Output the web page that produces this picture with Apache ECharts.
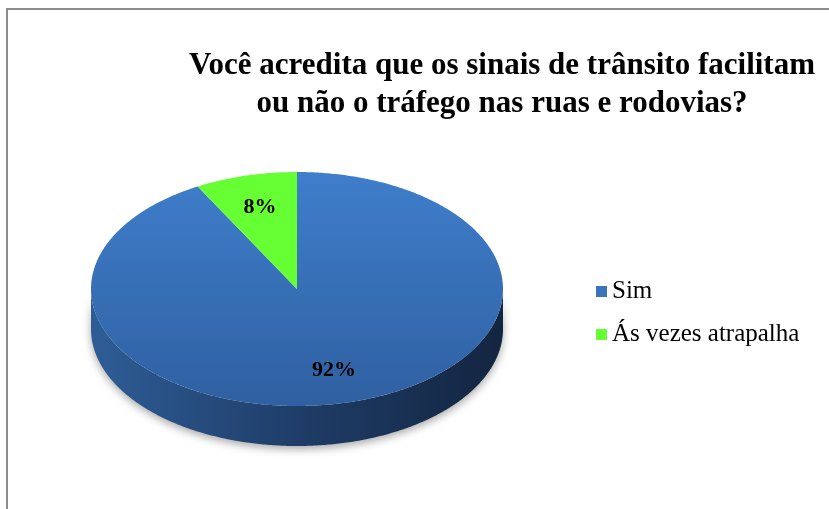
<!DOCTYPE html>
<html lang="pt">
<head>
    <meta charset="UTF-8">
    <title>Sinais de trânsito</title>
    <script src="https://cdn.jsdelivr.net/npm/echarts@6/dist/echarts.min.js"></script>
    <style>
        html, body { margin: 0; padding: 0; background: #fff; }
        #main { width: 829px; height: 509px; }
    </style>
</head>
<body>
    <div id="main"></div>
    <script>
        // dados do gráfico
        var categories = ['Sim', 'Ás vezes atrapalha'];
        var values = [92, 8];
        var labels = ['92%', '8%'];

        // cores: topo (gradiente) e legenda
        var topColors = [['#3f7ecb', '#2f60a1'], ['#66ff33', '#66ff33']];
        var legendColors = ['#3a74bd', '#66ff33'];

        // geometria da "pizza 3D"
        var pie = { cx: 297, cy: 289, rx: 206, ry: 117, depth: 40, labelR: 0.72 };

        var total = values.reduce(function (a, b) { return a + b; }, 0);

        function sliceAngles(idx) {
            var start = -Math.PI / 2;
            for (var i = 0; i < idx; i++) start += values[i] / total * Math.PI * 2;
            return [start, start + values[idx] / total * Math.PI * 2];
        }

        function pt(t, dy) {
            return [pie.cx + pie.rx * Math.cos(t), pie.cy + pie.ry * Math.sin(t) + (dy || 0)];
        }

        function arc(a0, a1, dy) {
            var pts = [];
            var n = Math.max(2, Math.ceil(Math.abs(a1 - a0) / 0.01));
            for (var k = 0; k <= n; k++) pts.push(pt(a0 + (a1 - a0) * k / n, dy));
            return pts;
        }

        function renderSlice(idx) {
            return function (params, api) {
                var a = sliceAngles(idx);
                var children = [];
                // parede lateral visível (frente: 0..π, 2π..3π)
                [[0, Math.PI], [2 * Math.PI, 3 * Math.PI]].forEach(function (r) {
                    var lo = Math.max(a[0], r[0]), hi = Math.min(a[1], r[1]);
                    if (hi > lo) {
                        var pts = arc(lo, hi, 0).concat(arc(hi, lo, pie.depth));
                        children.push({
                            type: 'polygon',
                            shape: { points: pts },
                            style: {
                                fill: new echarts.graphic.LinearGradient(0, 0, 1, 0, [
                                    { offset: 0, color: '#2e5d96' },
                                    { offset: 0.5, color: '#1f3d68' },
                                    { offset: 1, color: '#132540' }
                                ]),
                                shadowBlur: 8,
                                shadowOffsetY: 3,
                                shadowColor: 'rgba(0,0,0,0.35)'
                            }
                        });
                    }
                });
                // topo
                var top = [[pie.cx, pie.cy]].concat(arc(a[0], a[1], 0));
                children.push({
                    type: 'polygon',
                    shape: { points: top },
                    style: {
                        fill: new echarts.graphic.LinearGradient(0, 0, 0, 1, [
                            { offset: 0, color: topColors[idx][0] },
                            { offset: 1, color: topColors[idx][1] }
                        ])
                    }
                });
                // rótulo
                var mid = (a[0] + a[1]) / 2;
                children.push({
                    type: 'text',
                    style: {
                        text: labels[idx],
                        x: pie.cx + pie.rx * pie.labelR * Math.cos(mid),
                        y: pie.cy + pie.ry * pie.labelR * Math.sin(mid),
                        fill: '#000',
                        fontSize: 22,
                        fontWeight: 'bold',
                        fontFamily: 'Liberation Serif',
                        align: 'center',
                        verticalAlign: 'middle'
                    }
                });
                return { type: 'group', children: children };
            };
        }

        var myChart = echarts.init(document.getElementById('main'));

        var series = categories.map(function (name, i) {
            return {
                name: name,
                type: 'custom',
                coordinateSystem: 'none',
                silent: true,
                itemStyle: { color: legendColors[i] },
                renderItem: renderSlice(i),
                data: [[values[i]]]
            };
        });

        var option = {
            backgroundColor: '#fff',
            animation: false,
            title: {
                text: 'Você acredita que os sinais de trânsito facilitam\nou não o tráfego nas ruas e rodovias?',
                left: 497,
                top: 42,
                textAlign: 'center',
                textStyle: {
                    fontFamily: 'Liberation Serif',
                    fontWeight: 'bold',
                    fontSize: 31,
                    lineHeight: 38,
                    color: '#000'
                }
            },
            legend: {
                orient: 'vertical',
                left: 591,
                top: 274,
                itemWidth: 11,
                itemHeight: 11,
                itemGap: 18,
                icon: 'rect',
                selectedMode: false,
                textStyle: {
                    fontFamily: 'Liberation Serif',
                    fontSize: 25,
                    color: '#000'
                },
                data: categories
            },
            graphic: [{
                type: 'rect',
                shape: { x: 7, y: 9, width: 900, height: 600 },
                style: { fill: null, stroke: '#8c8c8c', lineWidth: 2 },
                silent: true
            }],
            series: series
        };

        myChart.setOption(option);
    </script>
</body>
</html>
